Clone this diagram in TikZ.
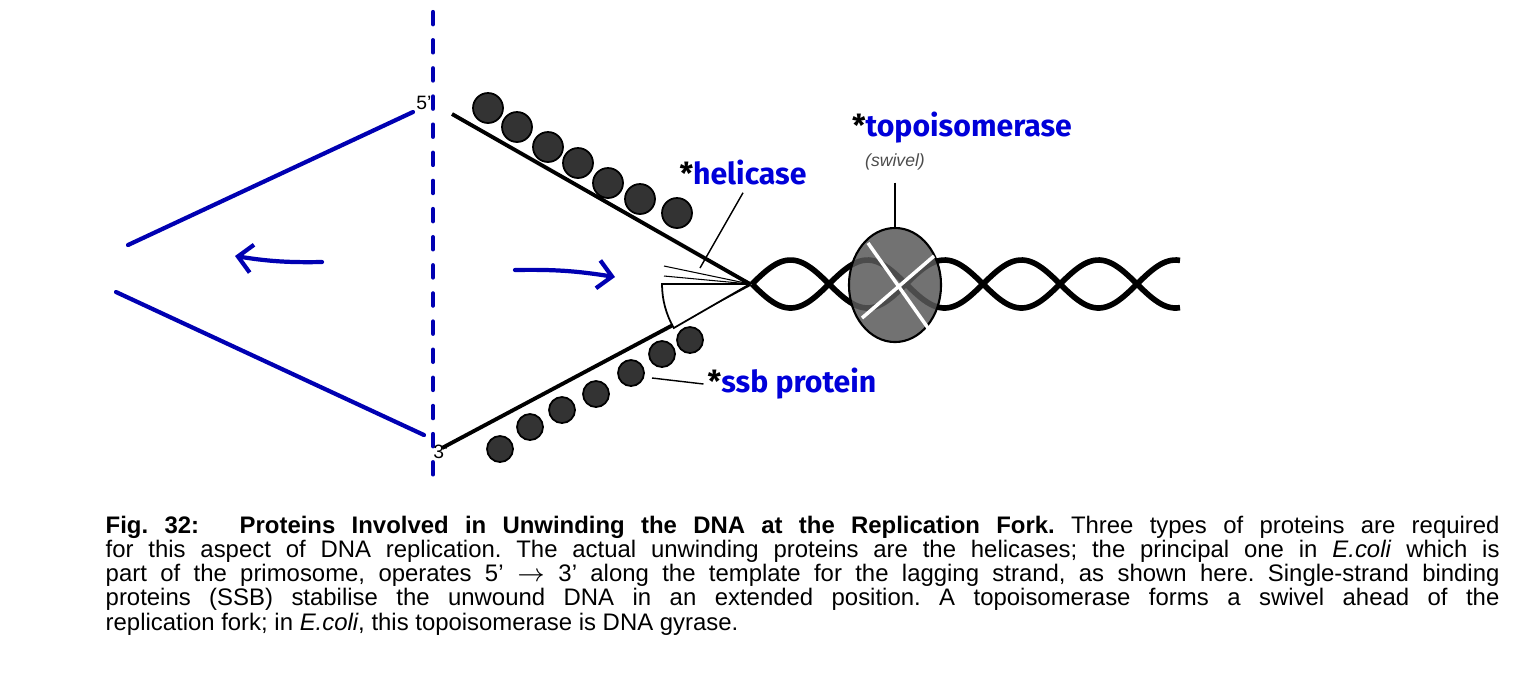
\documentclass[tikz,border=0pt]{standalone}
\usepackage{fontspec}
\setmainfont{Liberation Sans}
\newfontfamily\labelfont{Fira Sans}
\usetikzlibrary{calc, shapes, arrows.meta}

\tikzset{
    pen/.style={draw=blue!70!black, line width=1.2pt, line cap=round},
    bead/.style={fill=black!80, draw=black, line width=.5pt},
    strand/.style={line width=1.1pt, black},
    protein/.style={text=blue!85!black, font=\labelfont\bfseries\fontsize{8.6}{10}\selectfont, inner sep=1pt},
    leader/.style={black, line width=.4pt},
}

\begin{document}
\begin{tikzpicture}[x=0.01cm, y=-0.01cm]
    \useasboundingbox (0, 0) rectangle (1540, 684);

    % Hand-drawn marks
    \draw [pen, dash pattern=on 3.5pt off 4.5pt] (433, 12) -- (433, 480);
    \draw [pen] (128, 245) -- (413, 112);
    \draw [pen] (116, 292) -- (424, 435);
    \coordinate (left_tail) at (322, 262);
    \coordinate (left_head) at (235, 256);
    \draw [pen, -{Straight Barb[length=4pt, width=8pt]}] (left_tail) to[bend left=5] (left_head);
    \coordinate (right_tail) at (515, 270);
    \coordinate (right_head) at (615, 277);
    \draw [pen, -{Straight Barb[length=4pt, width=8pt]}] (right_tail) to[bend left=5] (right_head);

    % Fork
    \coordinate (fork) at (750, 284);
    \coordinate (top_end) at (452, 114);
    \coordinate (bottom_end) at (442, 448);
    \draw [strand] (top_end) -- (fork);
    \draw [strand] (bottom_end) -- (fork);

    \foreach \x/\y in {488/108, 517/127, 548/147, 578/163, 608/183, 640/199, 677/213}
        \draw [bead] (\x, \y) circle (15);
    \foreach \x/\y in {500/449, 530/427, 562/410, 596/394, 631/373, 662/354, 690/340}
        \draw [bead] (\x, \y) circle (13);

    % Helicase
    \draw [fill=white, line width=.5pt] (fork) -- ++(150:88) arc (150:180:88) -- cycle;
    \draw [line width=.3pt] ($(fork) + (-86, -8)$) -- (fork);
    \draw [line width=.3pt] ($(fork) + (-86, -18)$) -- (fork);

    % Double helix
    \draw [strand, line width=1.6pt] plot[domain=752:1180, samples=140]
        (\x, {284 + 24*sin((\x - 752)/77*180)});
    \draw [strand, line width=1.6pt] plot[domain=752:1180, samples=140]
        (\x, {284 - 24*sin((\x - 752)/77*180)});

    % Topoisomerase
    \node (swivel_body) at (895, 285) [ellipse, minimum width=0.92cm, minimum height=1.14cm,
        draw, line width=.6pt, fill=black!65, fill opacity=.85] {};
    \draw [white, line width=1pt] (868, 243) -- (928, 328);
    \draw [white, line width=1pt] (862, 318) -- (934, 256);

    % Labels
    \node (five_prime) at (424, 103) {\fontsize{5.5}{6}\selectfont 5’};
    \node (three_prime) at (441, 452) {\fontsize{5.5}{6}\selectfont 3’};
    \node (helicase) at (743, 172) [protein] {{\color{black}*}helicase};
    \node (topoisomerase) at (962, 128) [protein] {{\color{black}*}topoisomerase};
    \node (swivel) at (895, 162) [text=black!70, font=\fontsize{5}{6}\selectfont\itshape] {(swivel)};
    \node (ssb) at (792, 384) [protein] {{\color{black}*}ssb protein};

    \coordinate (helicase_tip) at (700, 268);
    \coordinate (ssb_tip) at (652, 378);
    \draw [leader] ($(helicase.south) + (0, 4)$) -- (helicase_tip);
    \draw [leader] (swivel.south) -- (swivel_body.north);
    \draw [leader] (ssb.west) -- (ssb_tip);

    % Caption
    \node (caption) at (105, 515) [anchor=north west, inner sep=0, text width=13.93cm,
        align=justify, font=\fontsize{6.8}{6.9}\selectfont\frenchspacing]
        {\textbf{Fig. 32:\hspace{1.7em}Proteins Involved in Unwinding the DNA at the Replication Fork.}
        Three types of proteins are required\linebreak for this aspect of DNA replication. The actual
        unwinding proteins are the helicases; the principal one in \textit{E.coli} which is\linebreak
        part of the primosome, operates 5’ $\to$ 3’ along the template for the lagging strand,
        as shown here. Single-strand binding\linebreak proteins (SSB) stabilise the unwound DNA in an
        extended position. A topoisomerase forms a swivel ahead of the\linebreak replication fork; in
        \textit{E.coli}, this topoisomerase is DNA gyrase.};
\end{tikzpicture}
\end{document}
